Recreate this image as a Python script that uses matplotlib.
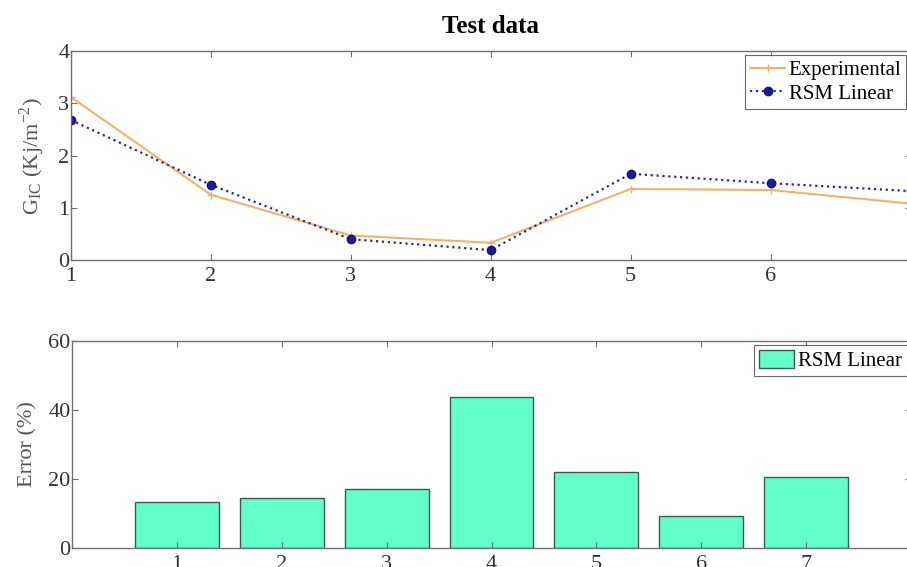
import numpy as np
import matplotlib.pyplot as plt

plt.rcParams['font.family'] = ['Liberation Serif', 'DejaVu Serif']
plt.rcParams['mathtext.fontset'] = 'stix'

# data
samples = [1, 2, 3, 4, 5, 6, 7]
g_experimental = [3.12, 1.25, 0.47, 0.33, 1.36, 1.34, 1.08]
g_rsm_linear = [2.68, 1.44, 0.40, 0.19, 1.65, 1.47, 1.32]
error_rsm = [13.3, 14.5, 17.1, 43.8, 22.0, 9.3, 20.6]

fig = plt.figure(figsize=(9.07, 5.67), dpi=100)
ax1 = fig.add_axes([0.078, 0.5414, 0.926, 0.3686])
ax2 = fig.add_axes([0.0794, 0.0335, 0.925, 0.3651])

spine_col = '#707070'

# top panel: G_IC values
ax1.plot(samples, g_experimental, color='#efb468', lw=1.5, marker='+',
         ms=6, mew=1.0, label='Experimental')
ax1.plot(samples, g_rsm_linear, color='#2a2a9c', lw=1.6, ls=':',
         marker='o', ms=6, mfc='#1c1c9a', mec='#15157a', label='RSM Linear')
ax1.set_xlim(1, 7)
ax1.set_ylim(0, 4)
ax1.set_xticks(samples)
ax1.set_yticks([0, 1, 2, 3, 4])
ax1.set_ylabel(r'G$_\mathregular{IC}$ (Kj/m$^\mathregular{-2}$)', fontsize=16,
               color='#555555', labelpad=8)
ax1.set_title('Test data', fontsize=18, fontweight='bold', pad=13)
leg1 = ax1.legend(loc='upper right', fontsize=15, frameon=True, fancybox=False,
                  edgecolor='#444444', borderaxespad=0.2, handlelength=1.7,
                  handletextpad=0.15, borderpad=0.25, labelspacing=0.2)
leg1.get_frame().set_linewidth(0.8)

# bottom panel: error bars
ax2.bar(samples, error_rsm, width=0.8, color='#62ffc8', edgecolor='#3a5a50',
        lw=1.0, label='RSM Linear')
ax2.set_xlim(0, 8)
ax2.set_ylim(0, 60)
ax2.set_xticks(samples)
ax2.set_yticks([0, 20, 40, 60])
ax2.set_ylabel('Error (%)', fontsize=16, color='#555555', labelpad=8)
leg2 = ax2.legend(loc='upper right', fontsize=15, frameon=True, fancybox=False,
                  edgecolor='#444444', borderaxespad=0.2, handlelength=1.7,
                  handleheight=0.9, handletextpad=0.15, borderpad=0.25)
leg2.get_frame().set_linewidth(0.8)

for ax in (ax1, ax2):
    for s in ax.spines.values():
        s.set_color(spine_col)
        s.set_linewidth(1.0)
    ax.tick_params(direction='in', top=True, right=True, length=4,
                   color=spine_col, labelsize=16, labelcolor='#333333')
    ax.tick_params(axis='x', pad=5)
    ax.tick_params(axis='y', pad=1)

fig.savefig('out.png', dpi=100)
